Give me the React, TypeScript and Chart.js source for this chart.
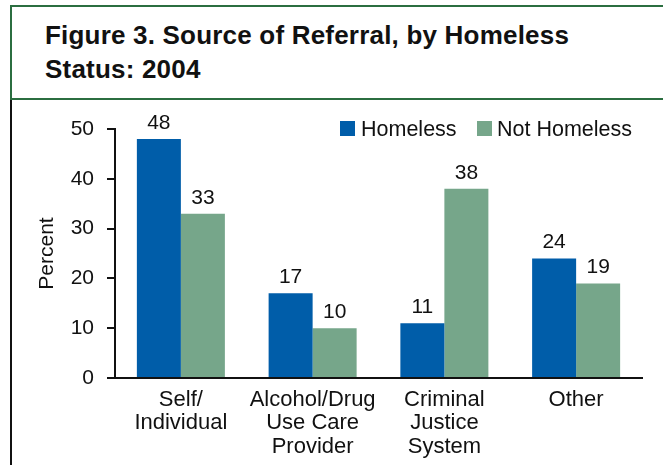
import React, { useEffect, useRef } from "react";
import { Chart, registerables } from "chart.js";

Chart.register(...registerables);

const categories: string[][] = [
  ["Self/", "Individual"],
  ["Alcohol/Drug", "Use Care", "Provider"],
  ["Criminal", "Justice", "System"],
  ["Other"],
];
const homeless: number[] = [48, 17, 11, 24];
const notHomeless: number[] = [33, 10, 38, 19];
const seriesNames: string[] = ["Homeless", "Not Homeless"];
const yTicks: number[] = [0, 10, 20, 30, 40, 50];

const BLUE = "#005DA9";
const GREEN = "#76A68A";
const FRAME = "#2B6E40";
const INK = "#111111";
const FONT = "'Liberation Sans', Arial, Helvetica, sans-serif";

const valueLabels = {
  id: "valueLabels",
  afterDatasetsDraw(chart: any) {
    const ctx = chart.ctx;
    ctx.save();
    ctx.font = `21px ${FONT}`;
    ctx.fillStyle = INK;
    ctx.textAlign = "center";
    ctx.textBaseline = "alphabetic";
    chart.data.datasets.forEach((ds: any, i: number) => {
      const meta = chart.getDatasetMeta(i);
      meta.data.forEach((bar: any, j: number) => {
        ctx.fillText(String(ds.data[j]), bar.x, bar.y - 10);
      });
    });
    ctx.restore();
  },
};

export default function App() {
  const canvasRef = useRef<HTMLCanvasElement | null>(null);

  useEffect(() => {
    const canvas = canvasRef.current;
    if (!canvas) return;
    const chart = new Chart(canvas, {
      type: "bar",
      data: {
        labels: categories,
        datasets: [
          {
            label: seriesNames[0],
            data: homeless,
            backgroundColor: BLUE,
            borderWidth: 0,
            categoryPercentage: 0.668,
            barPercentage: 1.0,
          },
          {
            label: seriesNames[1],
            data: notHomeless,
            backgroundColor: GREEN,
            borderWidth: 0,
            categoryPercentage: 0.668,
            barPercentage: 1.0,
          },
        ],
      },
      options: {
        responsive: false,
        animation: false,
        devicePixelRatio: 1,
        layout: { padding: { top: 29, right: 21, left: 0, bottom: 0 } },
        plugins: {
          legend: { display: false },
          tooltip: { enabled: false },
          title: { display: false },
        },
        scales: {
          x: {
            grid: { display: false },
            border: { display: true, color: INK, width: 2 },
            ticks: {
              color: INK,
              font: { family: FONT, size: 22, lineHeight: 1.07 },
              padding: 2,
              maxRotation: 0,
              autoSkip: false,
            },
            afterFit: (scale: any) => {
              scale.height = 87;
            },
          },
          y: {
            min: 0,
            max: 50,
            afterBuildTicks: (scale: any) => {
              scale.ticks = yTicks.map((v) => ({ value: v }));
            },
            grid: {
              drawOnChartArea: false,
              drawTicks: true,
              tickLength: 8,
              color: INK,
              lineWidth: 2,
            },
            border: { display: true, color: INK, width: 2 },
            ticks: {
              color: INK,
              font: { family: FONT, size: 21 },
              padding: 13,
            },
            title: {
              display: true,
              text: "Percent",
              color: INK,
              font: { family: FONT, size: 21 },
              padding: { top: 35, bottom: 0 },
            },
            afterFit: (scale: any) => {
              scale.width = 115;
            },
          },
        },
      },
      plugins: [valueLabels],
    });
    return () => chart.destroy();
  }, []);

  const legendText: React.CSSProperties = {
    position: "absolute",
    top: 117,
    fontFamily: FONT,
    fontSize: 21.5,
    lineHeight: "24px",
    color: INK,
    whiteSpace: "nowrap",
  };

  return (
    <div
      style={{
        position: "absolute",
        left: 0,
        top: 0,
        width: 663,
        height: 465,
        overflow: "hidden",
        background: "#ffffff",
      }}
    >
      <div
        style={{
          position: "absolute",
          left: 10,
          top: 5,
          width: 720,
          height: 95,
          boxSizing: "border-box",
          border: `2px solid ${FRAME}`,
        }}
      />
      <div
        style={{
          position: "absolute",
          left: 10,
          top: 100,
          width: 2,
          height: 365,
          background: INK,
        }}
      />
      <div
        style={{
          position: "absolute",
          left: 45,
          top: 18,
          fontFamily: FONT,
          fontWeight: "bold",
          fontSize: 26,
          letterSpacing: "0.2px",
          lineHeight: "34px",
          color: INK,
          whiteSpace: "nowrap",
        }}
      >
        Figure 3. Source of Referral, by Homeless
        <br />
        Status: 2004
      </div>
      <canvas
        ref={canvasRef}
        width={663}
        height={365}
        style={{ position: "absolute", left: 0, top: 100, width: 663, height: 365 }}
      />
      <div style={{ position: "absolute", left: 340, top: 121, width: 15, height: 15, background: BLUE }} />
      <div style={{ ...legendText, left: 361 }}>{seriesNames[0]}</div>
      <div style={{ position: "absolute", left: 477, top: 121, width: 15, height: 15, background: GREEN }} />
      <div style={{ ...legendText, left: 497 }}>{seriesNames[1]}</div>
    </div>
  );
}
